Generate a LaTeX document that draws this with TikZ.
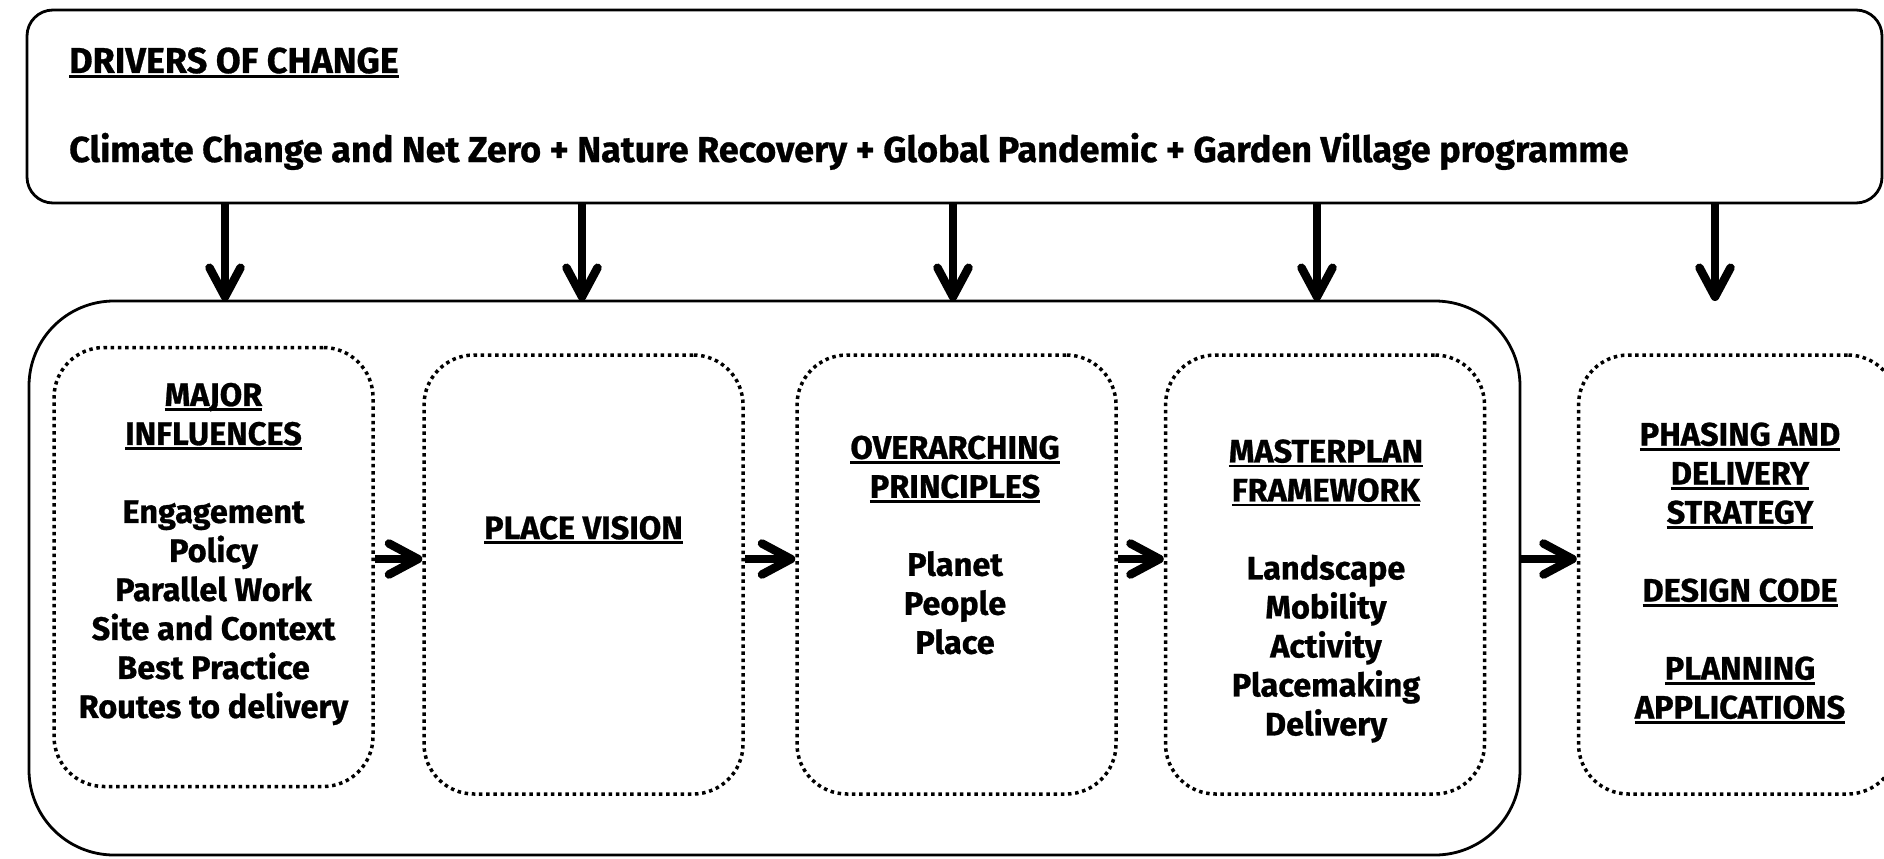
\documentclass[tikz,border=0pt]{standalone}
\usepackage{fontspec}
\setmainfont{Fira Sans}[BoldFeatures={FakeBold=0.8}]
\usetikzlibrary{arrows.meta}
\usetikzlibrary{positioning}

% underline with a heavier rule
\newcommand{\undl}[1]{\setbox0\hbox{#1}\rlap{\rule[-5pt]{\wd0}{2.8pt}}\box0}

\begin{document}
\begin{tikzpicture}[x=1pt,y=-1pt,every node/.style={align=center,inner sep=0pt,font=\fontsize{32.5}{39}\selectfont\bfseries},
drivebox/.style={draw,line width=2.8pt,rounded corners=26pt,minimum width=1855pt,minimum height=193pt},
corebox/.style={draw,line width=2.8pt,rounded corners=85pt,minimum width=1491pt,minimum height=554pt},
stagebox/.style={draw,line width=3.5pt,dash pattern=on 3.5pt off 3.7pt,rounded corners=50pt,minimum width=319pt,minimum height=439pt},
flow/.style={line width=8.5pt,-{Straight Barb[round,length=29pt,width=31pt]}},
toptext/.style={anchor=base west,font=\fontsize{36}{40}\selectfont\bfseries}]
\path[fill=white] (0,0) rectangle (1884,859);
\useasboundingbox (0,0) rectangle (1884,859);

\node[drivebox] (drivers) at (954.5,106.5) {};
\node[toptext] (dtitle) at (69,73) {\undl{DRIVERS OF CHANGE}};
\node[toptext] (dlist) at (69,162) {Climate Change and Net Zero + Nature Recovery + Global Pandemic + Garden Village programme};

\node[corebox] (core) at (774.5,578) {};
\node[stagebox] (influences) at (213.5,567) {};
\node[stagebox] (vision) at (583.5,574.5) {};
\node[stagebox] (principles) at (956.5,574.5) {};
\node[stagebox] (framework) at (1325,574.5) {};
\node[stagebox] (delivery) at (1738,574.5) {};

\node (influencestxt) at (213.5,554) {\undl{MAJOR}\\\undl{INFLUENCES}\\[39pt]Engagement\\Policy\\Parallel Work\\Site and Context\\Best Practice\\Routes to delivery};
\node (visiontxt) at (583.5,530) {\undl{PLACE VISION}};
\node (principlestxt) at (955,545) {\undl{OVERARCHING}\\\undl{PRINCIPLES}\\[39pt]Planet\\People\\Place};
\node (frameworktxt) at (1326,591) {\undl{MASTERPLAN}\\\undl{FRAMEWORK}\\[39pt]Landscape\\Mobility\\Activity\\Placemaking\\Delivery};
\node (deliverytxt) at (1740,573) {\undl{PHASING AND}\\\undl{DELIVERY}\\\undl{STRATEGY}\\[39pt]\undl{DESIGN CODE}\\[39pt]\undl{PLANNING}\\\undl{APPLICATIONS}};

% drivers feed everything below
\foreach \x/\n in {225/1,582/2,953/3,1317/4,1715/5}
  \coordinate (drop\n) at (\x,301);
\foreach \n in {1,...,5}
  \draw[flow] (drop\n |- drivers.south) -- (drop\n);

\coordinate (row) at (0,559);
\draw[flow] (influences.east |- row) -- (vision.west |- row);
\draw[flow] (vision.east |- row) -- (principles.west |- row);
\draw[flow] (principles.east |- row) -- (framework.west |- row);
\draw[flow] (core.east |- row) -- (delivery.west |- row);
\end{tikzpicture}
\end{document}
